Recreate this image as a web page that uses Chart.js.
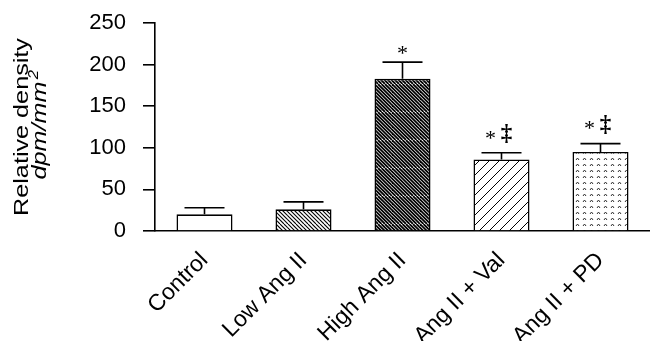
<!DOCTYPE html>
<html>
<head>
<meta charset="utf-8">
<script src="https://cdn.jsdelivr.net/npm/chart.js@4/dist/chart.umd.min.js"></script>
<style>
    html, body { margin: 0; padding: 0; background: #fff; }
    #wrap { width: 650px; height: 341px; position: relative; }
</style>
</head>
<body>
<div id="wrap"><canvas id="densidad"></canvas></div>
<script>
const categorias = ["Control", "Low Ang II", "High Ang II", "Ang II + Val", "Ang II + PD"];
const valores = [20, 26, 183, 86, 95];
const errores = [8, 9, 20, 8, 10];
const marcas = ["", "", "*", "*‡", "*‡"];
const ticksY = [0, 50, 100, 150, 200, 250];

const fuente = "'Liberation Sans', Arial, sans-serif";
const serif = "'Liberation Serif', 'Times New Roman', serif";

function hacerPatron(tipo) {
    const c = document.createElement("canvas");
    const ctx = c.getContext("2d");
    if (tipo === "blanco") {
        c.width = 4; c.height = 4;
        ctx.fillStyle = "#fff";
        ctx.fillRect(0, 0, 4, 4);
    } else if (tipo === "rayaFina" || tipo === "rayaDensa") {
        const s = tipo === "rayaFina" ? 4 : 3.5;
        const n = tipo === "rayaFina" ? 4 : 8;
        c.width = s * n; c.height = s * n;
        ctx.fillStyle = "#fff";
        ctx.fillRect(0, 0, c.width, c.height);
        ctx.strokeStyle = "#000";
        ctx.lineWidth = tipo === "rayaFina" ? 1.1 : 1.8;
        for (let i = -n; i <= 2 * n; i++) {
            ctx.beginPath();
            ctx.moveTo(i * s - c.height, 0);
            ctx.lineTo(i * s, c.height);
            ctx.stroke();
        }
    } else if (tipo === "rayaAncha") {
        c.width = 10; c.height = 10;
        ctx.fillStyle = "#fff";
        ctx.fillRect(0, 0, 10, 10);
        ctx.strokeStyle = "#000";
        ctx.lineWidth = 1;
        for (let i = -1; i <= 2; i++) {
            ctx.beginPath();
            ctx.moveTo(i * 10, 10);
            ctx.lineTo(i * 10 + 10, 0);
            ctx.stroke();
        }
    } else if (tipo === "puntos") {
        c.width = 7; c.height = 6;
        ctx.fillStyle = "#fff";
        ctx.fillRect(0, 0, 7, 6);
        ctx.strokeStyle = "#333";
        ctx.lineWidth = 1;
        ctx.beginPath();
        ctx.moveTo(2, 4);
        ctx.lineTo(3.5, 2);
        ctx.lineTo(5, 4);
        ctx.stroke();
    }
    return ctx.createPattern(c, "repeat");
}

const rellenos = [
    hacerPatron("blanco"),
    hacerPatron("rayaFina"),
    hacerPatron("rayaDensa"),
    hacerPatron("rayaAncha"),
    hacerPatron("puntos"),
];

const barrasError = {
    id: "barrasError",
    afterDatasetsDraw(chart) {
        const ctx = chart.ctx;
        const y = chart.scales.y;
        const meta = chart.getDatasetMeta(0);
        ctx.save();
        ctx.strokeStyle = "#000";
        ctx.lineWidth = 1.6;
        meta.data.forEach((barra, i) => {
            const arriba = y.getPixelForValue(valores[i] + errores[i]);
            ctx.beginPath();
            ctx.moveTo(barra.x, barra.y);
            ctx.lineTo(barra.x, arriba);
            ctx.moveTo(barra.x - 20, arriba);
            ctx.lineTo(barra.x + 20, arriba);
            ctx.stroke();
            const m = marcas[i];
            if (!m) return;
            ctx.fillStyle = "#000";
            ctx.textAlign = "center";
            ctx.textBaseline = "middle";
            ctx.font = "22px " + serif;
            if (m === "*") {
                ctx.fillText("*", barra.x, arriba - 8);
            } else {
                ctx.fillText("*", barra.x - 11, arriba - 14);
                ctx.font = "bold 23px " + serif;
                ctx.fillText("‡", barra.x + 5, arriba - 19);
            }
        });
        ctx.restore();
    },
};

const tituloY = {
    id: "tituloY",
    afterDraw(chart) {
        const ctx = chart.ctx;
        const area = chart.chartArea;
        const cy = (area.top + area.bottom) / 2;
        ctx.save();
        ctx.translate(0, cy);
        ctx.rotate(-Math.PI / 2);
        ctx.scale(1.2, 1);
        ctx.fillStyle = "#000";
        ctx.textBaseline = "alphabetic";
        ctx.textAlign = "center";
        ctx.font = "21px " + fuente;
        ctx.fillText("Relative density", 0, 28);
        ctx.font = "italic 21px " + fuente;
        const ancho = ctx.measureText("dpm/mm").width;
        ctx.textAlign = "left";
        ctx.fillText("dpm/mm", -ancho / 2 - 3, 46);
        ctx.font = "italic 14px " + fuente;
        ctx.fillText("2", ancho / 2 - 1, 38);
        ctx.restore();
    },
};

new Chart(document.getElementById("densidad"), {
    type: "bar",
    data: {
        labels: categorias,
        datasets: [
            {
                data: valores,
                backgroundColor: rellenos,
                borderColor: "#000",
                borderWidth: 1.6,
                borderSkipped: "bottom",
                barPercentage: 0.566,
                categoryPercentage: 1,
            },
        ],
    },
    options: {
        responsive: true,
        maintainAspectRatio: false,
        animation: false,
        layout: { padding: { top: 23, left: 0, right: 0, bottom: 0 } },
        scales: {
            x: {
                grid: { display: false },
                border: { display: true, color: "#000", width: 1.6 },
                ticks: {
                    font: { family: fuente, size: 23 },
                    color: "#000",
                    minRotation: 45,
                    maxRotation: 45,
                    padding: 8,
                    autoSkip: false,
                },
                afterFit(scale) {
                    scale.height = 110;
                    scale.paddingLeft = 0;
                    scale.paddingRight = 0;
                },
            },
            y: {
                min: 0,
                max: 250,
                afterBuildTicks(scale) {
                    scale.ticks = ticksY.map((v) => ({ value: v }));
                },
                grid: {
                    drawOnChartArea: false,
                    drawTicks: true,
                    tickLength: 12,
                    color: "#000",
                    lineWidth: 1.6,
                },
                border: { display: true, color: "#000", width: 1.6 },
                ticks: {
                    font: { family: fuente, size: 22 },
                    color: "#000",
                    padding: 17,
                },
                afterFit(scale) {
                    scale.width = 155;
                    scale.paddingTop = 0;
                    scale.paddingBottom = 0;
                },
            },
        },
        plugins: {
            legend: { display: false },
            tooltip: { enabled: false },
        },
    },
    plugins: [barrasError, tituloY],
});
</script>
</body>
</html>
